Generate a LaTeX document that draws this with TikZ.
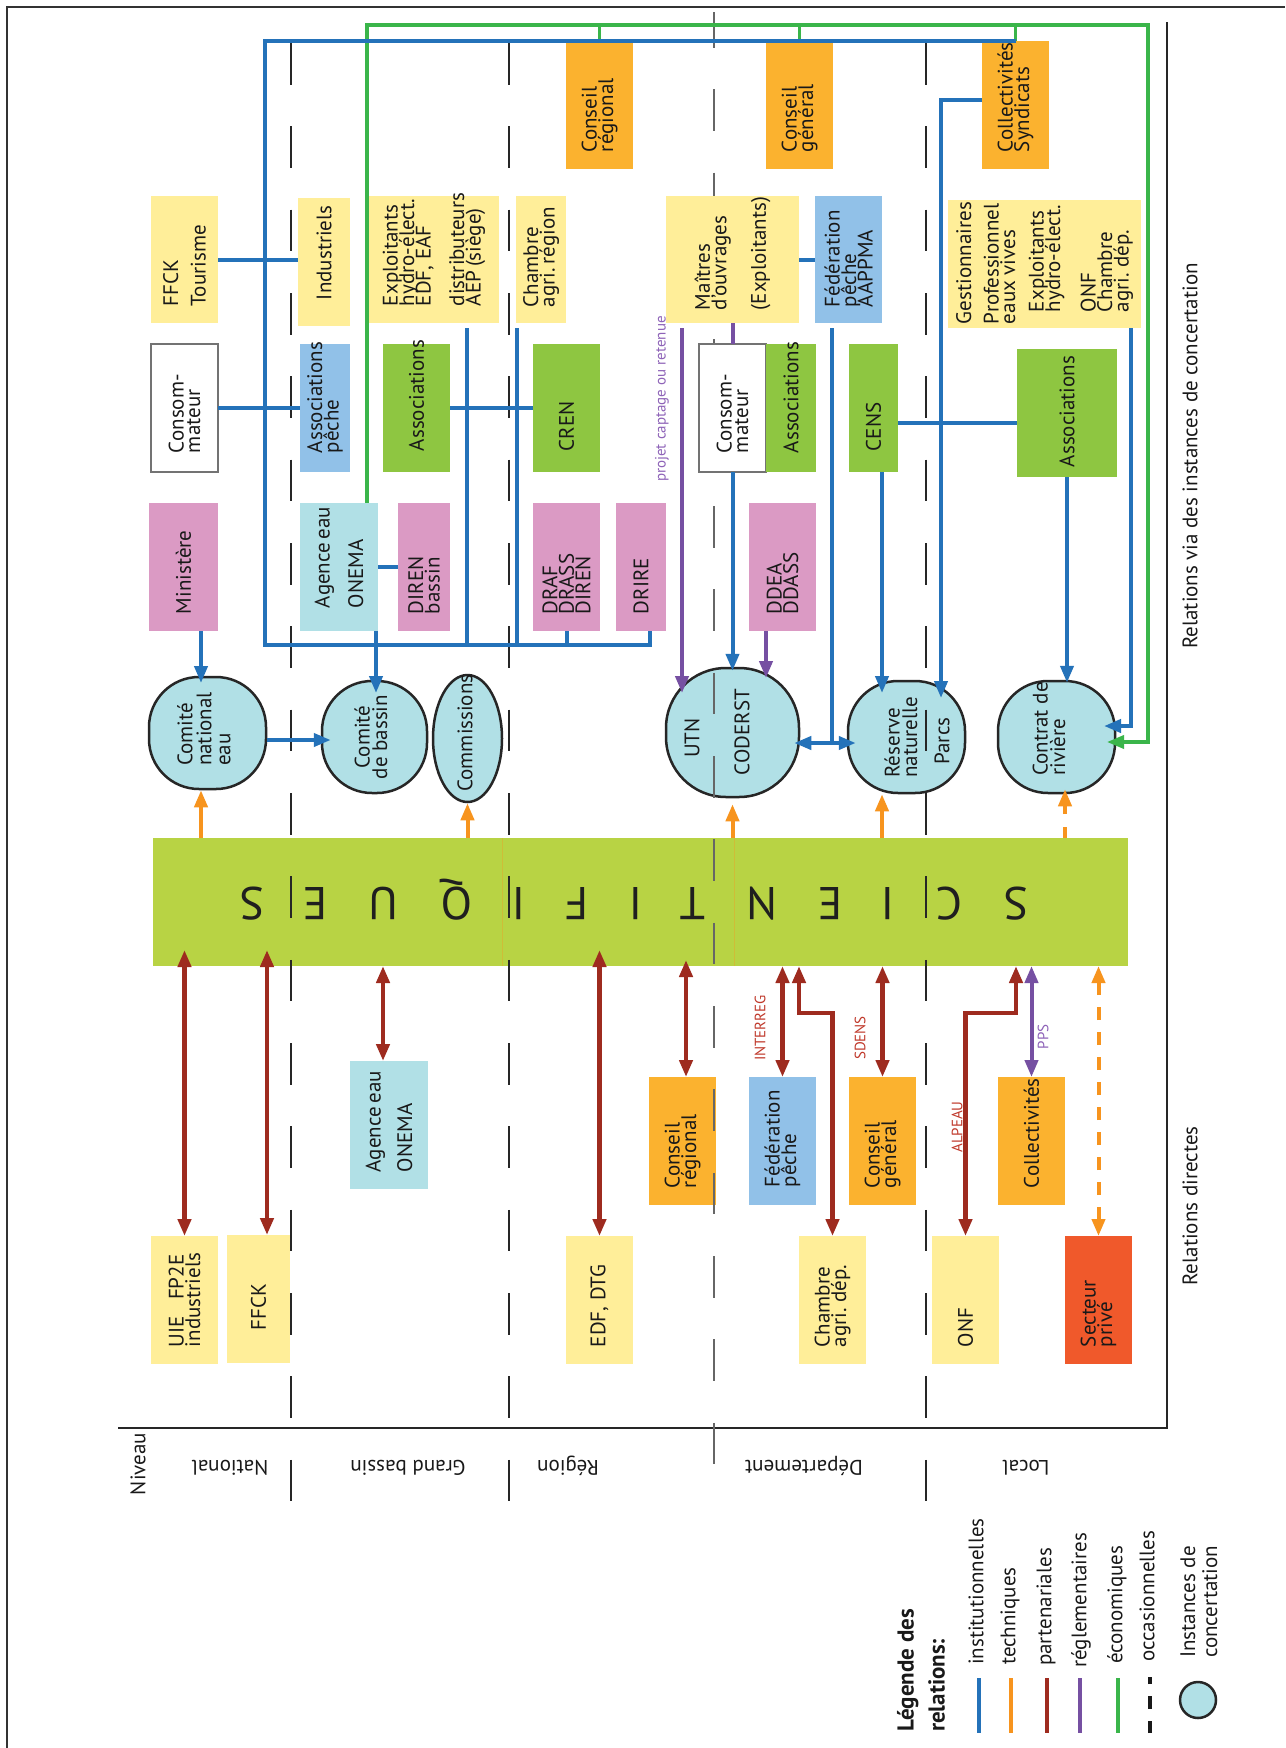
\documentclass[tikz,border=0pt]{standalone}
\usepackage{fontspec}
\setmainfont{PT Sans}
\usepackage{graphicx}
\usetikzlibrary{arrows.meta,shapes.geometric,calc}
\definecolor{cblue}{HTML}{2472B9}
\definecolor{corange}{HTML}{F7941E}
\definecolor{cred}{HTML}{9E2B1F}
\definecolor{cpurple}{HTML}{7650A2}
\definecolor{cgreen}{HTML}{3AB54A}
\definecolor{tred}{HTML}{C0392B}
\definecolor{tpurple}{HTML}{8E63B8}
\definecolor{byellow}{HTML}{FFEE99}
\definecolor{borange}{HTML}{FBB22F}
\definecolor{bpink}{HTML}{DB9AC4}
\definecolor{bcyan}{HTML}{B1E0E6}
\definecolor{bblue}{HTML}{91C1E8}
\definecolor{bgreen}{HTML}{8EC641}
\definecolor{bbar}{HTML}{B8D344}
\definecolor{bprive}{HTML}{F0592B}
\newcommand{\tightls}{\lineskiplimit=-100pt\relax}
\newcommand{\boxfont}{\fontsize{21}{16.5}\selectfont\tightls\hyphenpenalty=10000\relax\exhyphenpenalty=10000\relax}
\newcommand{\bxx}[8][17]{%
  \node[boxnode, fill=#7, minimum width={(#5)-(#3)}, minimum height={(#6)-(#4)}] (#2) at ({((#3)+(#5))/2},{((#4)+(#6))/2}) {\rotatebox{90}{\parbox{\dimexpr #6pt-#4pt-#1pt-#1pt\relax}{\raggedright\boxfont #8}}};}
\newcommand{\lblfont}{\fontsize{21}{17.5}\selectfont\tightls}
\newcommand{\cnefont}{\fontsize{21}{19}\selectfont\tightls}
\begin{document}
\begin{tikzpicture}[x=1pt,y=-1pt,
  >={Triangle[width=13pt,length=17pt]},
  boxnode/.style={inner sep=0pt, outer sep=0pt, anchor=center, text=black!90},
  circ/.style={draw=black!85, line width=2.5pt, fill=bcyan, inner sep=0pt, rounded corners=50pt},
  lblu/.style={draw=cblue, line width=4pt},
  lred/.style={draw=cred, line width=4.5pt},
  lorg/.style={draw=corange, line width=4pt},
  lpur/.style={draw=cpurple, line width=4pt},
  lgrn/.style={draw=cgreen, line width=3.5pt},
  sepk/.style={draw=black!85, line width=1.3pt, dash pattern=on 41.67pt off 41.67pt},
  sepg/.style={draw=black!60, line width=1.5pt, dash pattern=on 41.67pt off 41.67pt, dash phase=6pt},
  lbl/.style={rotate=90, inner sep=0pt, text=black!90, font={\lblfont}},
  slbl/.style={rotate=90, inner sep=0pt, font={\fontsize{15}{15}\selectfont}}]
\useasboundingbox (0,0) rectangle (1285,1748);
\fill[white] (0,0) rectangle (1285,1748);

% frames
\draw[black!80, line width=1.5pt] (7,1748) -- (7,7) -- (1285,7);
\draw[black!85, line width=2.2pt] (118,1428) -- (1167,1428) -- (1167,22);

% science bar
\node[fill=bbar, minimum width=975pt, minimum height=128pt, inner sep=0pt, outer sep=0pt] (sci) at (640.5,902) {};
\draw[corange!35!bbar, line width=1pt] (502,838) -- (502,966) (734,838) -- (734,966);
\foreach \x/\l [count=\i] in {1016/S,949/C,888/I,830/E,762/N,693/T,636/I,577/F,519/I,457/Q,383/U,315/E,252/S}
  \node[rotate=180, anchor=base, inner sep=0pt, text=black!88, font={\fontsize{46}{46}\selectfont}] (sc\i) at (\x,887) {\l};

% instances (circles)
\node[circ, minimum width=117pt, minimum height=112pt] (cne) at (207.5,733) {};
\node[circ, minimum width=105pt, minimum height=112pt] (cdb) at (374.5,737) {};
\node[draw=black!85, line width=2.5pt, fill=bcyan, ellipse, minimum width=69pt, minimum height=127pt, inner sep=0pt] (comm) at (467.5,738.5) {};
\node[circ, rounded corners=60pt, minimum width=133pt, minimum height=129pt] (coderst) at (732.5,732.5) {};
\node[circ, minimum width=117pt, minimum height=112pt] (reserve) at (906.5,737) {};
\node[circ, minimum width=117pt, minimum height=112pt] (contrat) at (1056.5,737) {};

% level separators
\draw[sepk] (291,43) -- (291,1502);
\draw[sepk] (509,43) -- (509,1502);
\draw[sepk] (926,43) -- (926,1502);
\draw[sepg] (714,12) -- (714,1464);

% ---- upper boxes
\bxx{ffckT}{151}{196}{218}{323}{byellow}{FFCK\\[11pt]Tourisme}
\bxx[26]{indus}{298}{198}{350}{326}{byellow}{Industriels}
\bxx{exploit}{369}{196}{499}{323}{byellow}{Exploitants\\hydro-élect.\\EDF,~EAF\\[17pt]distributeurs\\AEP~(siège)}
\bxx[16]{chambreR}{516}{196}{566}{323}{byellow}{Chambre\\agri.~région}
\bxx{consR}{566}{43}{633}{169}{borange}{Conseil\\régional}
\bxx{consG}{766}{43}{833}{169}{borange}{Conseil\\général}
\bxx[13]{maitres}{666}{196}{799}{323}{byellow}{Maîtres\\d'ouvrages\\[23pt](Exploitants)}
\bxx[16]{fedAP}{815}{196}{882}{323}{bblue}{Fédération\\pêche\\AAPPMA}
\bxx{collS}{982}{41}{1049}{169}{borange}{Collectivités\\Syndicats}
\bxx[4]{gest}{948}{200}{1141}{328}{byellow}{Gestionnaires\\[11pt]Professionnel\\eaux~vives\\[12pt]\hspace*{12pt}Exploitants\\\hspace*{12pt}hydro-élect.\\[19pt]\hspace*{12pt}ONF\\\hspace*{12pt}Chambre\\\hspace*{12pt}agri.~dép.}
\bxx[19]{consoN}{151}{344}{218}{472}{white,draw=black!55,line width=1.5pt}{Consom-\\mateur}
\bxx[19]{assoP}{300}{344}{350}{472}{bblue}{Associations\\pêche}
\bxx[21]{assoG}{383}{344}{450}{472}{bgreen}{Associations}
\bxx[21]{cren}{533}{344}{600}{472}{bgreen}{CREN}
\bxx[19]{consoD}{699}{344}{766}{472}{white,draw=black!55,line width=1.5pt}{Consom-\\mateur}
\bxx[19]{assoD}{766}{344}{816}{472}{bgreen}{Associations}
\bxx[21]{cens}{849}{344}{898}{472}{bgreen}{CENS}
\bxx[10]{assoL}{1017}{349}{1117}{477}{bgreen}{Associations}
\bxx{minist}{149}{503}{218}{631}{bpink}{Ministère}
\bxx[23]{agence}{300}{503}{378}{631}{bcyan}{Agence~eau\\[17pt]ONEMA}
\bxx{direnB}{398}{503}{450}{631}{bpink}{DIREN\\bassin}
\bxx{draf}{533}{503}{600}{631}{bpink}{DRAF\\DRASS\\DIREN}
\bxx{drire}{616}{503}{666}{631}{bpink}{DRIRE}
\bxx{ddea}{749}{503}{816}{631}{bpink}{DDEA\\DDASS}

% ---- lower boxes
\bxx{agenceL}{350}{1061}{428}{1189}{bcyan}{Agence~eau\\[15pt]ONEMA}
\bxx{consRL}{649}{1077}{716}{1205}{borange}{Conseil\\régional}
\bxx[18]{fedPL}{749}{1077}{816}{1205}{bblue}{Fédération\\pêche}
\bxx{consGL}{849}{1077}{916}{1205}{borange}{Conseil\\général}
\bxx{collL}{998}{1077}{1065}{1205}{borange}{Collectivités}
\bxx{uie}{151}{1236}{218}{1364}{byellow}{UIE\hspace{16pt}FP2E\\industriels}
\bxx[33]{ffckL}{227}{1235}{290}{1363}{byellow}{FFCK}
\bxx{edf}{566}{1236}{633}{1364}{byellow}{EDF,~DTG}
\bxx{chambreD}{799}{1236}{866}{1364}{byellow}{Chambre\\agri.~dép.}
\bxx{onf}{932}{1236}{999}{1364}{byellow}{ONF}
\bxx{prive}{1065}{1236}{1132}{1364}{bprive}{Secteur\\privé}

% gray separator visible over the lower Conseil regional box
\draw[black!60, line width=1.5pt] (714,1089) -- (714,1131) (714,1173) -- (714,1205);

% ---- coordinates
\coordinate (bSW) at (265,645);
\coordinate (bNW) at (265,41);
\coordinate (drO) at (650,631);
\coordinate (exO) at (467,328);
\coordinate (crO) at (517,328);
\coordinate (fpO) at (832,328);
\coordinate (fpJ) at (832,743);
\coordinate (gsO) at (1131,328);
\coordinate (gsI) at (1104,726);
\coordinate (csO) at (982,100);
\coordinate (rsI) at (941,698);
\coordinate (ceO) at (882,472);
\coordinate (ceI) at (882,693);
\coordinate (miO) at (201,631);
\coordinate (cneI) at (201,683);
\coordinate (agO) at (376,631);
\coordinate (agI) at (376,693);
\coordinate (pcO) at (682,328);
\coordinate (pcI) at (682,693);
\coordinate (ddO) at (766,631);
\coordinate (ddI) at (766,678);
\coordinate (gnA) at (367,25);
\coordinate (gnB) at (1148,25);
\coordinate (gnC) at (1148,742);
\coordinate (gnD) at (1107,742);
\coordinate (hT) at (0,838);
\coordinate (hB) at (0,966);
\coordinate (hBi) at (0,950);
\coordinate (hBj) at (0,960);
\coordinate (h740) at (0,740);
\coordinate (h743) at (0,743);
\coordinate (h423) at (0,423);
\coordinate (o1) at (201,838);
\coordinate (o4) at (882,838);
\coordinate (o5) at (1065,838);
\coordinate (r2) at (267,1235);
\coordinate (r3) at (383,1061);
\coordinate (r5) at (686,1077);
\coordinate (r7) at (799,1013);
\coordinate (r9) at (1016,1013);

% ---- green (economiques)
\draw[lgrn,->] (agence.north -| gnA) -- (gnA) -- (gnB) -- (gnC) -- (gnD);
\draw[lgrn] (consR.north) -- (consR.north |- gnA);
\draw[lgrn] (consG.north) -- (consG.north |- gnA);
\draw[lgrn] (collS.north) -- (collS.north |- gnA);

% ---- blue (institutionnelles)
\draw[lblu] (drO) |- (bSW) -- (bNW) -| (collS.north);
\draw[lblu] (draf.south) -- (draf.south |- bSW);
\draw[lblu] (exO) -- (exO |- bSW);
\draw[lblu] (crO) -- (crO |- bSW);
\draw[lblu] (ffckT.east) -- (ffckT.east -| indus.west);
\draw[lblu] (consoN.east) -- (assoP.west);
\draw[lblu] (assoG.east) -- (cren.west);
\draw[lblu] (maitres.east) -- (fedAP.west);
\draw[lblu] (agence.east) -- (direnB.west);
\draw[lblu] (fpO) -- (fpJ);
\draw[lblu,<->,shorten <=-6pt,shorten >=-9pt] (coderst.east |- h743) -- (reserve.west |- h743);
\draw[lblu,->] (csO) -| (rsI);
\draw[lblu,->] (ceO) -- (ceI);
\draw[lblu] (cens.east |- h423) -- (assoL.west |- h423);
\draw[lblu,->,shorten >=-3pt] (assoL.south) -- (assoL.south |- contrat.north);
\draw[lblu,->] (gsO) |- (gsI);
\draw[lblu,->] (miO) -- (cneI);
\draw[lblu,->,shorten >=-10pt] (cne.east |- h740) -- (cdb.west |- h740);
\draw[lblu,->] (agO) -- (agI);
\draw[lblu,->,shorten >=-4pt] (consoD.south) -- (consoD.south |- coderst.north);

% ---- purple (reglementaires)
\draw[lpur,->] (pcO) -- (pcI);
\draw[lpur] (maitres.south) -- (consoD.north);
\draw[lpur,->] (ddO) -- (ddI);

% ---- orange (techniques)
\draw[lorg,->] (o1) -- (o1 |- cne.south);
\draw[lorg,->] (comm.south |- hT) -- (comm.south);
\draw[lorg,->,shorten >=6pt] (coderst.south |- hT) -- (coderst.south);
\draw[lorg,->] (o4) -- (o4 |- reserve.south);
\draw[lorg,->,dash pattern=on 11pt off 13pt,shorten >=-5pt] (o5) -- (o5 |- contrat.south);

% ---- red (partenariales) and others below the bar
\draw[lred,<->] (uie.north) -- (uie.north |- hBi);
\draw[lred,<->] (r2) -- (r2 |- hBi);
\draw[lred,<->] (r3) -- (r3 |- hB);
\draw[lred,<->] (edf.north) -- (edf.north |- hBi);
\draw[lred,<->] (r5) -- (r5 |- hBj);
\draw[lred,<->] (fedPL.north) -- (fedPL.north |- hB);
\draw[lred,<->] (chambreD.north) |- (r7) -- (r7 |- hB);
\draw[lred,<->] (consGL.north) -- (consGL.north |- hB);
\draw[lred,<->] (onf.north) |- (r9) -- (r9 |- hB);
\draw[lpur,<->] (collL.north) -- (collL.north |- hB);
\draw[lorg,<->,dash pattern=on 13pt off 12pt] (prive.north) -- (prive.north |- hB);

% ---- connector labels
\node[slbl, text=tred] (tInt) at (760,1028) {INTERREG};
\node[slbl, text=tred] (tSd) at (860,1038) {SDENS};
\node[slbl, text=tred] (tAl) at (957,1127) {ALPEAU};
\node[slbl, text=tpurple] (tPps) at (1043,1037) {PPS};
\node[slbl, text=tpurple] (tProj) at (662,399) {projet captage ou retenue};

% ---- texts in instances
\node[lbl, align=left, font={\cnefont}] (cneT) at (204,729) {Comité\\national\\eau};
\node[lbl, align=center] (cdbT) at (371,737) {Comité\\de bassin};
\node[lbl] (commT) at (465,733) {Commissions};
\node[lbl] (utnT) at (692,738) {UTN};
\node[lbl] (codT) at (742,732) {CODERST};
\node[lbl, align=left] (resT) at (901,737) {Réserve\\naturelle};
\node[lbl] (parcT) at (942,741) {Parcs};
\node[lbl, align=left] (conT) at (1049,729) {Contrat de\\rivière};

% ---- level labels
\foreach \x/\t [count=\i] in {230/National,408/Grand bassin,568/Région,804/Département,1026/Local}
  \node[rotate=180, anchor=base, inner sep=0pt, text=black!90, font={\fontsize{21}{21}\selectfont}] (lev\i) at (\x,1460) {\t};
\node[lbl] (niveau) at (138,1464) {Niveau};
\node[lbl] (relVia) at (1190,456) {Relations via des instances de concertation};
\node[lbl] (relDir) at (1190,1206) {Relations directes};

% ---- legend
\node[rotate=90, anchor=west, align=left, inner sep=0pt, text=black!90, font={\fontsize{23}{31}\selectfont\bfseries}] (lgT) at (921,1732) {Légende des\\relations:};
\draw[cblue, line width=4pt] (979,1678) -- (979,1733);
\draw[corange, line width=4pt] (1011,1678) -- (1011,1733);
\draw[cred, line width=4pt] (1047,1678) -- (1047,1733);
\draw[cpurple, line width=4pt] (1080,1678) -- (1080,1733);
\draw[cgreen, line width=4pt] (1118,1678) -- (1118,1733);
\draw[black!90, line width=4.5pt, dash pattern=on 12.5pt off 12pt] (1150,1733) -- (1150,1677);
\node[circle, draw=black!85, line width=2.5pt, fill=bcyan, minimum size=36pt, inner sep=0pt] (legC) at (1198,1700) {};
\node[lbl, anchor=west] (lg1) at (976,1665) {institutionnelles};
\node[lbl, anchor=west] (lg2) at (1010,1665) {techniques};
\node[lbl, anchor=west] (lg3) at (1046,1666) {partenariales};
\node[lbl, anchor=west] (lg4) at (1081,1668) {réglementaires};
\node[lbl, anchor=west] (lg5) at (1117,1664) {économiques};
\node[lbl, anchor=west] (lg6) at (1147,1662) {occasionnelles};
\node[lbl, anchor=west, align=left, font={\fontsize{21}{22}\selectfont}] (lg7) at (1199,1658) {Instances de\\concertation};
\end{tikzpicture}
\end{document}
